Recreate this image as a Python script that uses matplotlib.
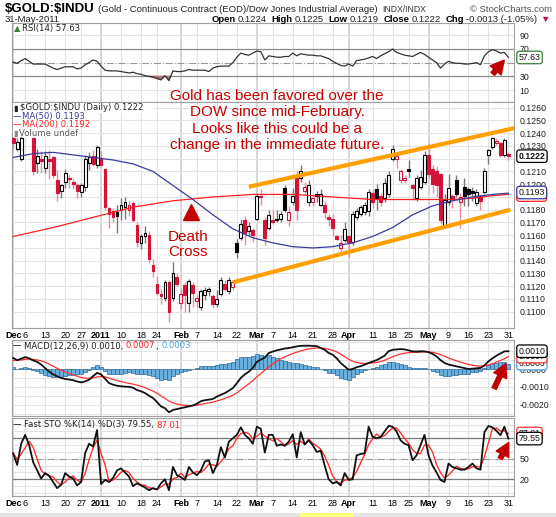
import numpy as np
import pandas as pd
import matplotlib
matplotlib.use("Agg")
import matplotlib.pyplot as plt
from matplotlib.patches import Rectangle, FancyArrowPatch

plt.rcParams['font.family'] = ['Liberation Sans', 'DejaVu Sans']

W, H = 556, 517

# trading calendar Dec 1 2010 .. May 31 2011
holidays = ["2010-12-24", "2011-01-17", "2011-02-21", "2011-04-22", "2011-05-30"]
tick_dates = ["2010-12-01", "2010-12-06", "2010-12-13", "2010-12-20", "2010-12-27",
              "2011-01-03", "2011-01-10", "2011-01-18", "2011-01-24", "2011-02-01",
              "2011-02-07", "2011-02-14", "2011-02-22", "2011-03-01", "2011-03-07",
              "2011-03-14", "2011-03-21", "2011-03-28", "2011-04-01", "2011-04-11",
              "2011-04-18", "2011-04-25", "2011-05-02", "2011-05-09", "2011-05-16",
              "2011-05-23", "2011-05-31"]
tick_labels = ["Dec", "6", "13", "20", "27", "2011", "10", "18", "24", "Feb", "7", "14", "22",
               "Mar", "7", "14", "21", "28", "Apr", "11", "18", "25", "May", "9", "16", "23", "31"]
month_labels = ["Dec", "2011", "Feb", "Mar", "Apr", "May"]

# $GOLD:$INDU daily candles
opens = [.1236, .1228, .1220, .1240, .1249, .1236, .1217, .1220, .1213, .1220,
         .1221, .1203, .1195, .1202, .1205, .1202, .1199, .1194, .1198, .1217,
         .1222, .1215, .1220, .1212, .1181, .1179, .1178, .1180, .1182, .1180,
         .1185, .1168, .1154, .1159, .1160, .1137, .1122, .1114, .1111, .1123,
         .1111, .1127, .1107, .1121, .1107, .1121, .1108, .1104, .1113, .1116,
         .1112, .1106, .1114, .1122, .1116, .1119, .1154, .1158, .1172, .1163,
         .1164, .1173, .1191, .1172, .1166, .1172, .1173, .1173, .1197, .1172,
         .1186, .1205, .1205, .1195, .1186, .1186, .1192, .1184, .1184, .1174,
         .1173, .1159, .1150, .1156, .1159, .1155, .1174, .1177, .1178, .1179,
         .1193, .1196, .1191, .1189, .1192, .1220, .1220, .1203, .1203, .1212,
         .1199, .1189, .1198, .1202, .1223, .1212, .1210, .1208, .1168, .1186,
         .1191, .1203, .1186, .1198, .1196, .1195, .1185, .1191, .1194, .1223,
         .1229, .1232, .1232, .1223, .1224]
highs = [.1240, .1236, .1243, .1254, .1251, .1237, .1228, .1226, .1226, .1227,
         .1222, .1211, .1200, .1212, .1207, .1204, .1201, .1201, .1223, .1225,
         .1227, .1231, .1226, .1213, .1182, .1181, .1184, .1189, .1190, .1187,
         .1187, .1170, .1161, .1167, .1163, .1141, .1128, .1118, .1125, .1125,
         .1139, .1130, .1118, .1123, .1126, .1123, .1114, .1118, .1119, .1119,
         .1114, .1117, .1127, .1125, .1127, .1125, .1157, .1173, .1175, .1170,
         .1166, .1193, .1196, .1174, .1180, .1180, .1180, .1179, .1199, .1183,
         .1197, .1211, .1215, .1202, .1203, .1192, .1195, .1196, .1187, .1177,
         .1177, .1160, .1160, .1170, .1160, .1179, .1181, .1184, .1186, .1196,
         .1196, .1200, .1193, .1205, .1210, .1231, .1223, .1212, .1207, .1219,
         .1200, .1207, .1211, .1226, .1232, .1215, .1214, .1209, .1192, .1208,
         .1192, .1207, .1193, .1205, .1198, .1198, .1196, .1192, .1213, .1228,
         .1237, .1236, .1233, .1236, .1225]
lows = [.1228, .1226, .1218, .1239, .1241, .1207, .1209, .1209, .1209, .1204,
        .1205, .1187, .1189, .1197, .1197, .1196, .1189, .1190, .1195, .1211,
        .1214, .1213, .1214, .1180, .1166, .1170, .1162, .1172, .1173, .1175,
        .1170, .1151, .1149, .1154, .1138, .1127, .1113, .1106, .1108, .1092,
        .1108, .1120, .1102, .1100, .1100, .1104, .1104, .1101, .1109, .1112,
        .1103, .1104, .1112, .1116, .1114, .1117, .1142, .1156, .1152, .1160,
        .1155, .1172, .1184, .1152, .1164, .1169, .1170, .1170, .1178, .1167,
        .1184, .1172, .1202, .1192, .1183, .1183, .1186, .1183, .1173, .1167,
        .1159, .1156, .1147, .1155, .1143, .1152, .1172, .1175, .1176, .1175,
        .1181, .1180, .1183, .1186, .1190, .1218, .1213, .1201, .1201, .1206,
        .1188, .1187, .1196, .1200, .1205, .1193, .1190, .1169, .1167, .1184,
        .1181, .1190, .1166, .1183, .1183, .1187, .1183, .1180, .1192, .1216,
        .1228, .1231, .1221, .1221, .1219]
closes = [.1232, .1233, .1236, .1250, .1242, .1210, .1222, .1218, .1222, .1218,
          .1207, .1193, .1199, .1209, .1204, .1200, .1195, .1199, .1220, .1221,
          .1216, .1229, .1215, .1182, .1177, .1174, .1175, .1184, .1186, .1184,
          .1172, .1155, .1159, .1162, .1141, .1132, .1115, .1112, .1123, .1100,
          .1130, .1122, .1114, .1113, .1124, .1115, .1111, .1116, .1117, .1118,
          .1106, .1110, .1125, .1118, .1125, .1123, .1147, .1169, .1162, .1167,
          .1160, .1191, .1190, .1158, .1176, .1170, .1172, .1177, .1180, .1178,
          .1191, .1180, .1210, .1198, .1199, .1189, .1191, .1192, .1178, .1173,
          .1166, .1157, .1154, .1165, .1155, .1177, .1179, .1182, .1184, .1194,
          .1186, .1189, .1186, .1201, .1207, .1228, .1222, .1210, .1205, .1210,
          .1197, .1205, .1206, .1223, .1208, .1200, .1199, .1172, .1188, .1197,
          .1189, .1192, .1190, .1191, .1192, .1193, .1194, .1187, .1210, .1227,
          .1236, .1234, .1223, .1235, .1222]

# moving averages, sampled along the drawn lines (day index, value)
ma50_days = [0, 5, 10, 15, 20, 25, 30, 35, 40, 45, 50, 55, 60, 65, 70, 75, 80,
             85, 90, 95, 100, 105, 110, 115, 120, 124]
ma50 = [.1221, .1224, .1225, .1223, .1221, .1219, .1216, .1210, .1199, .1188, .1176,
        .1165, .1158, .1154, .1151, .1150, .1151, .1154, .1159, .1166, .1176, .1183,
        .1187, .1190, .1192, .1193]
ma200_days = [0, 10, 20, 30, 40, 50, 60, 70, 80, 90, 100, 110, 115, 120, 124]
ma200 = [.1159, .1166, .1174, .1182, .1187, .1190, .1192, .1192, .1190, .1188, .1188,
         .1188, .1189, .1191, .1192]

# hand-drawn channel (day index, price)
chan_up_days = [59, 125.5]
chan_up = [.1198, .1244]
chan_lo_days = [55, 124.5]
chan_lo = [.1123, .1180]

rsi = [51, 49, 53, 56, 52, 48, 48, 48, 48, 45, 42, 40, 42, 44, 44, 44, 41, 42, 47, 50,
       54, 52, 45, 39, 38, 38, 38, 37, 36, 35, 36, 34, 33, 31, 30, 29, 27, 25, 31, 24,
       38, 37, 37, 38, 40, 39, 39, 39, 39, 37, 42, 44, 45, 45, 45, 50, 58, 64, 62, 61,
       64, 67, 66, 54, 60, 59, 58, 58, 59, 59, 64, 60, 63, 62, 61, 61, 60, 60, 58, 56,
       52, 49, 46, 45, 48, 45, 53, 54, 55, 57, 59, 56, 60, 63, 66, 70, 65, 63, 61, 60,
       59, 62, 65, 62, 58, 54, 50, 42, 48, 52, 50, 49, 49, 48, 48, 49, 50, 47, 60, 66,
       69, 67, 64, 65, 57.63]

# MACD(12,26,9) in units of 0.0001
macd_e4 = [6.2, 4.9, 5.8, 6.7, 6.0, 4.8, 4.0, 2.5, 0.5, -1.5,
           -3.0, -4.1, -5.0, -5.6, -5.9, -6.3, -7.0, -7.5, -7.0, -6.0,
           -4.0, -2.2, -3.0, -5.5, -7.9, -8.8, -9.4, -9.7, -9.9, -10.0,
           -10.5, -11.8, -12.5, -13.5, -15.0, -16.3, -18.5, -21.0, -22.0, -24.3,
           -23.0, -22.5, -22.0, -21.5, -21.0, -20.5, -19.5, -18.1, -17.5, -17.2,
           -16.8, -15.5, -14.5, -13.5, -12.2, -10.7, -8.0, -5.0, -3.0, -1.5,
           0.6, 4.0, 5.2, 6.5, 9.0, 9.8, 10.5, 11.0, 11.5, 11.8,
           12.2, 12.7, 13.0, 13.1, 13.1, 13.0, 12.8, 11.8, 10.8, 9.0,
           8.0, 6.0, 3.4, 1.5, -0.4, 0.0, 1.0, 1.6, 2.4, 3.4,
           4.2, 5.0, 6.2, 7.5, 10.0, 10.8, 11.0, 11.2, 11.0, 10.5,
           9.9, 9.8, 10.0, 9.9, 9.5, 8.5, 7.1, 5.0, 3.4, 2.5,
           2.0, 1.5, 1.0, 0.5, 0.0, 0.2, 0.4, 0.6, 2.0, 4.3,
           6.0, 7.5, 8.7, 9.9, 10.0]
signal_e4 = [4.9, 4.9, 5.1, 5.4, 5.5, 5.4, 5.1, 4.6, 3.8, 2.7,
             1.6, 0.4, -0.6, -1.6, -2.5, -3.2, -4.0, -4.7, -5.1, -5.3,
             -5.0, -4.5, -4.2, -4.4, -5.1, -5.8, -6.5, -7.1, -7.6, -8.1,
             -8.5, -9.1, -9.7, -10.5, -11.4, -12.4, -13.6, -15.1, -16.5, -18.0,
             -19.0, -19.7, -20.2, -20.4, -20.5, -20.5, -20.3, -19.9, -19.4, -19.0,
             -18.6, -18.0, -17.3, -16.5, -15.7, -14.7, -13.4, -11.7, -10.0, -8.3,
             -6.5, -4.4, -2.5, -0.7, 1.2, 2.9, 4.4, 5.7, 6.8, 7.8,
             8.7, 9.5, 10.2, 10.8, 11.3, 11.6, 11.8, 11.8, 11.6, 11.1,
             10.5, 9.6, 8.4, 7.0, 5.5, 4.4, 3.7, 3.3, 3.1, 3.2,
             3.4, 3.7, 4.2, 4.9, 5.9, 6.9, 7.7, 8.4, 8.9, 9.2,
             9.3, 9.4, 9.5, 9.6, 9.6, 9.4, 8.9, 8.1, 7.2, 6.2,
             5.4, 4.6, 3.9, 3.2, 2.6, 2.1, 1.8, 1.6, 1.7, 2.2,
             3.0, 3.9, 4.8, 5.8, 7.0]

# Fast stochastic %K(14)
sto_k = [58, 41, 72, 85, 70, 45, 33, 21, 29, 25, 16, 7, 12, 29, 24, 21, 11, 16, 58, 72,
         68, 92, 13, 19, 16, 22, 33, 36, 30, 24, 10, 14, 11, 8, 4, 7, 5, 14, 20, 4,
         38, 26, 23, 19, 38, 30, 26, 33, 46, 48, 29, 41, 67, 52, 75, 80, 85, 96, 85, 80,
         72, 97, 94, 59, 85, 85, 69, 71, 69, 75, 86, 52, 89, 71, 77, 70, 60, 62, 40, 20,
         14, 16, 11, 29, 19, 20, 55, 57, 58, 97, 82, 80, 82, 90, 98, 97, 90, 77, 72, 70,
         48, 55, 70, 85, 55, 40, 30, 19, 16, 43, 38, 36, 34, 34, 38, 43, 36, 34, 89, 98,
         96, 91, 84.5, 97, 79.55]

# ---------------------------------------------------------------
days = pd.bdate_range("2010-12-01", "2011-05-31")
days = days[~days.isin(pd.to_datetime(holidays))]
tick_pos = days.get_indexer(pd.to_datetime(tick_dates))
is_month = [lab in month_labels for lab in tick_labels]

o = np.array(opens); h = np.array(highs); l = np.array(lows); c = np.array(closes)
x = np.arange(len(c))
macd = np.array(macd_e4) * 1e-4
signal = np.array(signal_e4) * 1e-4
hist = macd - signal
sto_d = pd.Series(sto_k).rolling(3, min_periods=1).mean().values

RED = '#d4123c'
PINK = '#ec8aa0'

fig = plt.figure(figsize=(W / 100, H / 100), dpi=100)


def panel(top, bottom):
    return fig.add_axes([12 / W, 1 - bottom / H, 502 / W, (bottom - top) / H])


def style(a, yticks, fmt, ylim, grid=None, hidden=()):
    a.set_xlim(-0.3, 125.4)
    a.set_ylim(*ylim)
    for s in a.spines.values():
        s.set_color('#a0a0a0')
        s.set_linewidth(0.8)
    a.yaxis.tick_right()
    a.set_yticks(yticks)
    # labels sitting under a value tag are covered in the original
    a.set_yticklabels(['' if any(abs(v - hv) < 1e-9 for hv in hidden) else fmt.format(v)
                       for v in yticks])
    a.tick_params(axis='y', length=0, pad=4, labelsize=6.3, labelcolor='#222222')
    a.set_xticks(tick_pos)
    a.set_xticklabels([])
    a.tick_params(axis='x', length=0)
    for p, m in zip(tick_pos, is_month):
        a.axvline(p, color='#cccccc' if m else '#e3e3e3', lw=1.1 if m else 0.8, zorder=0)
    for g in (grid if grid is not None else yticks):
        a.axhline(g, color='#e3e3e3', lw=0.8, zorder=0)


def xlabels(a):
    a.set_xticklabels(tick_labels)
    a.tick_params(axis='x', labelsize=6.5, pad=2)
    for lab, m in zip(a.get_xticklabels(), is_month):
        if m:
            lab.set_fontweight('bold')


def tag(a, val, txt, ec, bold=False):
    a.text(1.009, val, txt, transform=a.get_yaxis_transform(), ha='left', va='center',
           fontsize=6.3, fontweight='bold' if bold else 'normal', color='#111111',
           bbox=dict(boxstyle='round,pad=0.2,rounding_size=0.3', fc='white', ec=ec, lw=0.9),
           clip_on=False, zorder=10)


ax_rsi = panel(23, 102)
ax = panel(102, 328)
ax_macd = panel(340, 416)
ax_sto = panel(418, 496)

# ---- RSI ----
style(ax_rsi, [10, 30, 50, 70, 90], '{:.0f}', (-7.5, 108), grid=[10, 90], hidden=[50])
ax_rsi.axhline(70, color='#8a8a8a', lw=0.9, zorder=1)
ax_rsi.axhline(30, color='#8a8a8a', lw=0.9, zorder=1)
ax_rsi.axhline(50, color='#9a9a9a', lw=0.8, ls='-.', zorder=1)
r = np.array(rsi)
ax_rsi.fill_between(x, r, 30, where=r < 30, interpolate=True, color='#b37777', zorder=2)
ax_rsi.plot(x, r, color='#333333', lw=0.9, zorder=3)
tag(ax_rsi, rsi[-1], '57.63', '#3b7d3b')

# ---- price ----
style(ax, [round(0.1100 + 0.001 * k, 4) for k in range(17)], '{:.4f}', (0.10872, 0.12645),
      hidden=[0.1220, 0.1190])
prev = np.r_[np.nan, c[:-1]]
is_red = ~(c >= prev)
hollow = c > o
faces = ['white' if hw else (RED if rd else 'black') for hw, rd in zip(hollow, is_red)]
edges = [RED if rd else 'black' for rd in is_red]
wicks = [PINK if rd else '#777777' for rd in is_red]
ax.vlines(x, l, h, colors=wicks, lw=1.0, zorder=2)
ax.bar(x, np.maximum(np.abs(c - o), 0.00003), bottom=np.minimum(o, c), width=0.72,
       color=faces, edgecolor=edges, linewidth=0.8, zorder=3)
ax.plot(ma200_days, ma200, color='#ff2020', lw=0.9, zorder=4)
ax.plot(ma50_days, ma50, color='#3a3aa0', lw=0.9, zorder=4)
ax.plot(chan_up_days, chan_up, color='#ffa000', lw=3, solid_capstyle='butt', zorder=5)
ax.plot(chan_lo_days, chan_lo, color='#ffa000', lw=3, solid_capstyle='butt', zorder=5)
ax.plot([44.4], [0.11780], marker='^', ms=11, color='#c40000', zorder=6)
ax.text(43.8, 0.11525, 'Death\nCross', color='#c40000', fontsize=11, ha='center',
        va='center', linespacing=1.05, zorder=7)
xlabels(ax)
tag(ax, 0.1222, '0.1222', 'black', bold=True)
tag(ax, 0.11915, '0.1192', '#ff2020')
tag(ax, 0.11935, '0.1193', '#3a3aa0')

# ---- MACD ----
style(ax_macd, [0.0010, 0.0, -0.0010, -0.0020], '{:.4f}', (-0.00264, 0.00163),
      grid=[0.0015, 0.0010, 0.0005, 0.0, -0.0005, -0.0010, -0.0015, -0.0020, -0.0025],
      hidden=[0.0010])
ax_macd.bar(x, hist, width=1.0, color='#6aaedb', edgecolor='#2c6aa0', linewidth=0.5, zorder=2)
ax_macd.plot(x, signal, color='#ff3030', lw=0.9, zorder=3)
ax_macd.plot(x, macd, color='#111111', lw=1.3, zorder=4)
tag(ax_macd, 0.0003, '0.0003', '#4aa0e0')
tag(ax_macd, 0.0007, '0.0007', '#ff3030')
tag(ax_macd, 0.0010, '0.0010', 'black')

# ---- Fast STO ----
style(ax_sto, [20, 50, 80], '{:.0f}', (-4.5, 109.7), grid=list(range(0, 110, 10)), hidden=[80])
ax_sto.axhline(80, color='#7a7a7a', lw=0.9, zorder=1)
ax_sto.axhline(20, color='#7a7a7a', lw=0.9, zorder=1)
ax_sto.axhline(50, color='#9a9a9a', lw=0.8, ls='-.', zorder=1)
ax_sto.plot(x, sto_d, color='#ff3030', lw=1.0, zorder=3)
ax_sto.plot(x, sto_k, color='#111111', lw=1.3, zorder=4)
xlabels(ax_sto)
tag(ax_sto, sto_d[-1], '87.01', '#ff3030')
tag(ax_sto, sto_k[-1], '79.55', 'black')

# ---- texts ----
renderer = fig.canvas.get_renderer()


def text_run(xp, yp, parts, size=6.1, family='DejaVu Sans', align='left'):
    objs, widths = [], []
    for part in parts:
        s, color, weight, gap = part[:4]
        fs = part[4] if len(part) > 4 else size
        t = fig.text(0, 1 - yp / H, s, color=color, fontsize=fs, fontweight=weight,
                     family=[family, 'DejaVu Sans'], va='center', ha='left', zorder=20)
        objs.append(t)
        widths.append(t.get_window_extent(renderer).width + gap)
    if align == 'right':
        xp -= sum(widths)
    for t, w in zip(objs, widths):
        t.set_x(xp / W)
        xp += w


# white backing behind price legend
fig.add_artist(Rectangle((12.5 / W, 1 - 137 / H), 64 / W, 34 / H, transform=fig.transFigure,
                         fc='white', ec='none', zorder=8))
fig.add_artist(Rectangle((12.5 / W, 1 - 113 / H), 142 / W, 10 / H, transform=fig.transFigure,
                         fc='white', ec='none', zorder=8))

text_run(5, 9, [(r'\$GOLD:\$INDU', 'black', 'bold', 3, 9.5),
                ('(Gold - Continuous Contract (EOD)/Dow Jones Industrial Average)', '#222222', 'normal', 5),
                ('INDX/INDX', '#333333', 'normal', 0, 6.2)], size=6.8, family='Liberation Sans')
text_run(552, 9, [('© StockCharts.com', '#555555', 'normal', 0)], size=6.8,
         family='Liberation Sans', align='right')
text_run(5, 19, [('31-May-2011', '#222222', 'normal', 0)], size=6.8, family='Liberation Sans')
text_run(549, 19, [('Open', 'black', 'bold', 2), ('0.1224', '#222222', 'normal', 5),
                   ('High', 'black', 'bold', 2), ('0.1225', '#222222', 'normal', 5),
                   ('Low', 'black', 'bold', 2), ('0.1219', '#222222', 'normal', 5),
                   ('Close', 'black', 'bold', 2), ('0.1222', '#222222', 'normal', 5),
                   ('Chg', 'black', 'bold', 2), ('-0.0013 (-1.05%)', '#222222', 'normal', 2),
                   ('▼', '#c0104a', 'normal', 0)], size=6.8, family='Liberation Sans', align='right')

text_run(14, 29, [('▲', '#3b7d3b', 'normal', 1), ('RSI(14) 57.63', '#222222', 'normal', 0)], size=6.1)
text_run(13, 108, [('▮', '#222222', 'normal', 2), (r'\$GOLD:\$INDU (Daily) 0.1222', '#222222', 'normal', 0)])
text_run(13, 117, [('—', '#3a3aa0', 'normal', 1), ('MA(50) 0.1193', '#3a3aa0', 'normal', 0)])
text_run(13, 125, [('—', '#ff2020', 'normal', 1), ('MA(200) 0.1192', '#ff2020', 'normal', 0)])
text_run(13, 133, [('▮', '#888888', 'normal', 1), ('Volume undef', '#555555', 'normal', 0)])
text_run(13, 346, [('—', '#111111', 'normal', 2), ('MACD(12,26,9) 0.0010,', '#222222', 'normal', 3),
                   ('0.0007', '#ff2020', 'normal', 0), (',', '#222222', 'normal', 3),
                   ('0.0003', '#4aa0e0', 'normal', 0)])
text_run(13, 425, [('—', '#111111', 'normal', 2), ('Fast STO %K(14) %D(3) 79.55,', '#222222', 'normal', 3),
                   ('87.01', '#ff2020', 'normal', 0)])

fig.text(277 / W, 1 - 120.5 / H,
         'Gold has been favored over the\nDOW since mid-February.\nLooks like this could be a\nchange in the immediate future.',
         color='#c80000', fontsize=11, ha='center', va='center', linespacing=1.22, zorder=21)

# red arrows
for tail, tip in [((491, 76), (506, 58)), ((493, 391), (507, 361)), ((499, 461), (510, 440))]:
    fig.add_artist(FancyArrowPatch((tail[0] / W, 1 - tail[1] / H), (tip[0] / W, 1 - tip[1] / H),
                                   transform=fig.transFigure, arrowstyle='simple,head_length=1.6,head_width=1.7,tail_width=0.55',
                                   mutation_scale=6, color='#c00000', zorder=22))

# footer strip
fig.add_artist(Rectangle((0, 0), 1, 4 / H, transform=fig.transFigure, fc='#e4e4e4', ec='none'))
fig.add_artist(Rectangle((300 / W, 0), 54 / W, 4 / H, transform=fig.transFigure, fc='#ffff80', ec='none'))

fig.savefig('out.png', dpi=100, facecolor='white')
